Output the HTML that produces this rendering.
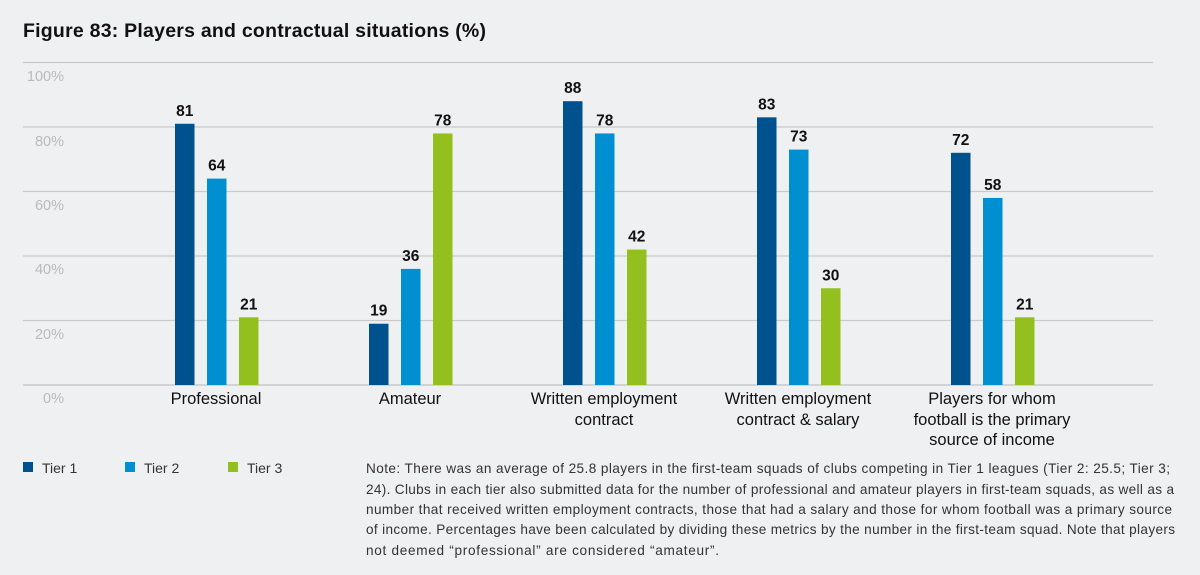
<!DOCTYPE html>
<html><head><meta charset="utf-8"><style>
html,body{margin:0;padding:0;background:#eff0f2;}
svg{display:block;font-family:"Liberation Sans",sans-serif;}
</style></head><body>
<svg width="1200" height="575" viewBox="0 0 1200 575" xmlns="http://www.w3.org/2000/svg">
<rect width="1200" height="575" fill="#eff0f2"/>
<text x="23" y="37" font-size="19.5" font-weight="bold" fill="#111" textLength="463">Figure 83: Players and contractual situations (%)</text>
<g stroke="#c8c9cb" stroke-width="1.2">
<line x1="23" x2="1153" y1="62.5" y2="62.5"/>
<line x1="23" x2="1153" y1="127" y2="127"/>
<line x1="23" x2="1153" y1="191.5" y2="191.5"/>
<line x1="23" x2="1153" y1="256" y2="256"/>
<line x1="23" x2="1153" y1="320.5" y2="320.5"/>
<line x1="23" x2="1153" y1="385" y2="385" stroke-width="1.6"/>
</g>
<g font-size="14.5" fill="#b9babc" text-anchor="end">
<text x="64" y="81">100%</text><text x="64" y="146">80%</text><text x="64" y="210">60%</text>
<text x="64" y="274">40%</text><text x="64" y="339">20%</text><text x="64" y="403">0%</text>
</g>
<g id="bars"></g>
<g font-size="15.5" font-weight="bold" fill="#111" text-anchor="middle" id="vals"></g>
<g font-size="16.5" fill="#111" text-anchor="middle">
<text x="216" y="404">Professional</text>
<text x="410" y="404">Amateur</text>
<text x="604" y="404">Written employment</text><text x="604" y="425">contract</text>
<text x="798" y="404">Written employment</text><text x="798" y="425">contract &amp; salary</text>
<text x="992" y="404">Players for whom</text><text x="992" y="425">football is the primary</text><text x="992" y="445">source of income</text>
</g>
<rect x="23" y="462" width="10" height="10" fill="#00528e"/>
<rect x="125" y="462" width="10" height="10" fill="#0090d2"/>
<rect x="228" y="462" width="10" height="10" fill="#93c01f"/>
<g font-size="14" fill="#333">
<text x="42" y="473">Tier 1</text><text x="144" y="473">Tier 2</text><text x="247" y="473">Tier 3</text>
</g>
<g font-size="13.6" fill="#333">
<text x="366" y="473" textLength="804">Note: There was an average of 25.8 players in the first-team squads of clubs competing in Tier 1 leagues (Tier 2: 25.5; Tier 3;</text>
<text x="366" y="494" textLength="808">24). Clubs in each tier also submitted data for the number of professional and amateur players in first-team squads, as well as a</text>
<text x="366" y="514" textLength="806">number that received written employment contracts, those that had a salary and those for whom football was a primary source</text>
<text x="366" y="534" textLength="809">of income. Percentages have been calculated by dividing these metrics by the number in the first-team squad. Note that players</text>
<text x="366" y="555" textLength="353">not deemed “professional” are considered “amateur”.</text>
</g>
<script>
var d=[[81,64,21],[19,36,78],[88,78,42],[83,73,30],[72,58,21]];
var c=["#00528e","#0090d2","#93c01f"];
var b=document.getElementById("bars"),v=document.getElementById("vals"),ns="http://www.w3.org/2000/svg";
for(var g=0;g<5;g++)for(var t=0;t<3;t++){
var x=175+g*194+t*32,val=d[g][t],y=385-val*3.225;
var r=document.createElementNS(ns,"rect");r.setAttribute("x",x);r.setAttribute("y",y);r.setAttribute("width",19.5);r.setAttribute("height",385-y);r.setAttribute("fill",c[t]);b.appendChild(r);
var tx=document.createElementNS(ns,"text");tx.setAttribute("x",x+9.75);tx.setAttribute("y",y-8);tx.textContent=val;v.appendChild(tx);}
</script>
</svg>
</body></html>
